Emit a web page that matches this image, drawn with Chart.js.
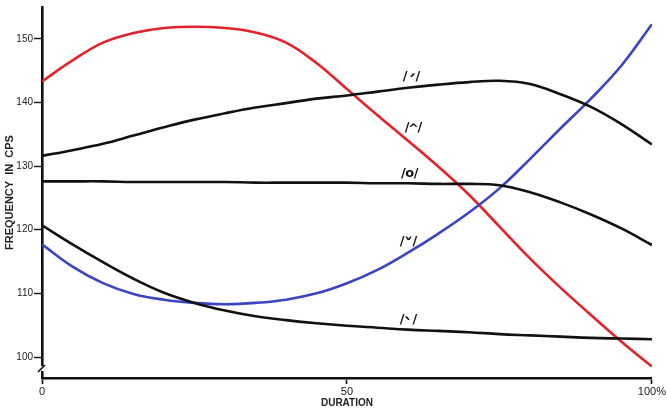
<!DOCTYPE html>
<html>
<head>
<meta charset="utf-8">
<script src="https://cdn.jsdelivr.net/npm/chart.js@4"></script>
<style>
  html, body { margin: 0; padding: 0; background: #ffffff; }
  #wrap { width: 667px; height: 408px; }
</style>
</head>
<body>
<div id="wrap"><canvas id="c" width="667" height="408"></canvas></div>
<script>
// ---- data (duration in %, frequency in cps) ----
const durationPct = [0,5,10,15,20,25,30,35,40,45,50,55,60,65,70,75,80,85,90,95,100];
const toneRising   = [131.6,132.5,133.5,134.8,136.1,137.3,138.3,139.2,139.9,140.6,141.1,141.7,142.3,142.8,143.2,143.4,142.9,141.3,139.3,136.6,133.4];
const toneRiseFall = [143.3,146.6,149.4,150.9,151.7,151.9,151.7,151.0,149.4,146.2,142.1,138.0,134.0,129.9,125.5,120.5,115.5,110.9,106.6,102.4,98.5];
const toneLevel    = [127.6,127.6,127.6,127.5,127.5,127.5,127.5,127.4,127.4,127.4,127.4,127.3,127.3,127.2,127.2,127.0,125.9,124.3,122.4,120.2,117.6];
const toneDip      = [117.7,114.2,111.6,109.9,109.0,108.5,108.3,108.5,109.0,110.0,111.6,113.7,116.4,119.4,122.7,126.5,131.1,135.9,140.6,145.8,152.3];
const toneFalling  = [120.7,117.7,114.9,112.3,110.1,108.5,107.3,106.4,105.8,105.3,104.9,104.6,104.3,104.1,103.9,103.6,103.4,103.2,103.0,102.9,102.8];

// tone labels: slashes + middle mark (text), anchored in data space
const toneMarks  = ['ˊ', '^', 'o', 'ˇ', 'ˋ'];
const toneLabelX = [60.6, 60.9, 60.3, 60.1, 60.1];
const toneLabelY = [144.0, 136.1, 128.8, 118.2, 105.8];

const yTickValues = [100, 110, 120, 130, 140, 150];
const xTickValues = [0, 50, 100];
const xTickLabels = ['0', '50', '100%'];

const series = [
  { name: 'rising',    values: toneRising,   color: '#111111' },
  { name: 'level',     values: toneLevel,    color: '#111111' },
  { name: 'falling',   values: toneFalling,  color: '#111111' },
  { name: 'dip',       values: toneDip,      color: '#3b44c2' },
  { name: 'riseFall',  values: toneRiseFall, color: '#e3232a' }
];

const datasets = series.map(s => ({
  label: s.name,
  data: durationPct.map((x, i) => ({ x: x, y: s.values[i] })),
  borderColor: s.color,
  borderWidth: 2.6,
  pointRadius: 0,
  fill: false,
  tension: 0.4
}));

const markOffset = { 'ˊ': 6, '^': 2, 'o': 0, 'ˇ': 5, 'ˋ': 6 };
const markSize   = { 'ˊ': 18, '^': 13, 'o': 13, 'ˇ': 17, 'ˋ': 18 };

const toneLabelPlugin = {
  id: 'toneLabels',
  afterDatasetsDraw(chart) {
    const { ctx, scales: { x, y } } = chart;
    ctx.save();
    ctx.fillStyle = '#111';
    ctx.textBaseline = 'middle';
    toneMarks.forEach((m, i) => {
      const cx = x.getPixelForValue(toneLabelX[i]);
      const cy = y.getPixelForValue(toneLabelY[i]);
      ctx.font = 'bold 13px "DejaVu Sans", sans-serif';
      ctx.textAlign = 'right';
      ctx.fillText('/', cx - 4, cy);
      ctx.textAlign = 'left';
      ctx.fillText('/', cx + 4, cy);
      ctx.textAlign = 'center';
      ctx.font = 'bold ' + markSize[m] + 'px "DejaVu Sans", sans-serif';
      ctx.fillText(m, cx, cy + markOffset[m]);
    });
    ctx.restore();
  }
};

const axisBreakPlugin = {
  id: 'axisBreak',
  afterDraw(chart) {
    const { ctx, chartArea: a } = chart;
    ctx.save();
    ctx.fillStyle = '#fff';
    ctx.fillRect(a.left - 3, a.bottom - 12, 6, 5);
    ctx.strokeStyle = '#111';
    ctx.lineWidth = 1.6;
    ctx.beginPath();
    ctx.moveTo(a.left - 4, a.bottom - 6);
    ctx.lineTo(a.left + 3, a.bottom - 13);
    ctx.stroke();
    ctx.restore();
  }
};

new Chart(document.getElementById('c'), {
  type: 'line',
  data: { datasets },
  plugins: [toneLabelPlugin, axisBreakPlugin],
  options: {
    responsive: false,
    animation: false,
    layout: { padding: { top: 7, right: 15, bottom: 0, left: 0 } },
    plugins: { legend: { display: false }, tooltip: { enabled: false } },
    scales: {
      x: {
        type: 'linear',
        min: 0,
        max: 100,
        afterBuildTicks: s => { s.ticks = xTickValues.map(v => ({ value: v })); },
        afterFit: s => { s.height = 30; },
        border: { display: true, color: '#111', width: 2.6 },
        grid: { drawOnChartArea: false, tickLength: 6, tickWidth: 1.6, tickColor: '#111' },
        ticks: {
          color: '#222',
          padding: 1,
          maxRotation: 0,
          font: { family: '"Liberation Sans", sans-serif', size: 11 },
          callback: (v) => xTickLabels[xTickValues.indexOf(v)]
        },
        title: {
          display: true,
          text: 'DURATION',
          color: '#222',
          padding: { top: 0, bottom: -1 },
          font: { family: '"Liberation Sans", sans-serif', size: 10, weight: 'bold' }
        }
      },
      y: {
        type: 'linear',
        min: 96.7,
        max: 155,
        afterBuildTicks: s => { s.ticks = yTickValues.map(v => ({ value: v })); },
        afterFit: s => { s.width = 42; },
        border: { display: true, color: '#111', width: 2.6 },
        grid: { drawOnChartArea: false, tickLength: 8, tickWidth: 1.4, tickColor: '#111' },
        ticks: {
          color: '#222',
          padding: 1,
          font: { family: '"Liberation Sans", sans-serif', size: 10 }
        },
        title: {
          display: true,
          text: 'FREQUENCY  IN  CPS',
          color: '#222',
          padding: { top: 3, bottom: 0 },
          font: { family: '"Liberation Sans", sans-serif', size: 11, weight: 'bold' }
        }
      }
    }
  }
});
</script>
</body>
</html>
